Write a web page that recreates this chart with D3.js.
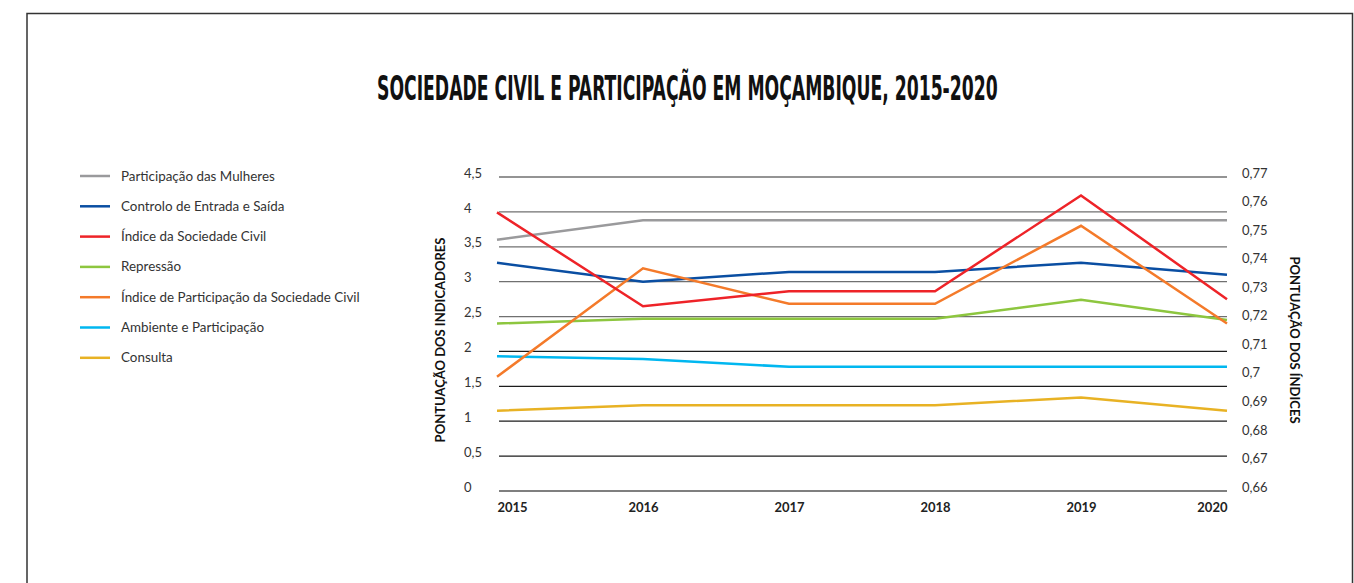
<!DOCTYPE html>
<html>
<head>
<meta charset="utf-8">
<script src="https://cdn.jsdelivr.net/npm/d3@7"></script>
<style>
body{margin:0;background:#fff;}
svg{display:block;}
</style>
</head>
<body>
<div id="chart"></div>
<script>
const years=[2015,2016,2017,2018,2019,2020]

// left axis: indicators
const mulheres=[3.6,3.88,3.88,3.88,3.88,3.88]
const controlo=[3.27,3.0,3.14,3.14,3.27,3.1]
const repressao=[2.4,2.47,2.47,2.47,2.74,2.45]
const ambiente=[1.93,1.89,1.78,1.78,1.78,1.78]
const consulta=[1.15,1.23,1.23,1.23,1.34,1.15]

// right axis: indices
const indiceSC=[0.7576,0.7247,0.730,0.730,0.7635,0.7272]
const indicePart=[0.700,0.738,0.7256,0.7256,0.7529,0.7187]

const leftTicks=[0,0.5,1,1.5,2,2.5,3,3.5,4,4.5]
const rightTicks=[0.66,0.67,0.68,0.69,0.70,0.71,0.72,0.73,0.74,0.75,0.76,0.77]

const series=[
{name:"Participação das Mulheres",values:mulheres,axis:"L",color:"#9a9a9c"},
{name:"Controlo de Entrada e Saída",values:controlo,axis:"L",color:"#0a4ea2"},
{name:"Índice da Sociedade Civil",values:indiceSC,axis:"R",color:"#ee2328"},
{name:"Repressão",values:repressao,axis:"L",color:"#8dc63f"},
{name:"Índice de Participação da Sociedade Civil",values:indicePart,axis:"R",color:"#f47a2a"},
{name:"Ambiente e Participação",values:ambiente,axis:"L",color:"#00b7f0"},
{name:"Consulta",values:consulta,axis:"L",color:"#e8b224"}
]

// draw order: back to front as in the picture
const drawOrder=[0,5,6,3,1,4,2]

const width=1354
const height=583
const font="Lato, 'Open Sans', sans-serif"

const svg=d3.select("#chart")
.append("svg")
.attr("width",width)
.attr("height",height)

// frame
svg.append("path")
.attr("d","M27,600 L27,13.5 L1352.5,13.5 L1352.5,600")
.attr("fill","none")
.attr("stroke","#333")
.attr("stroke-width",1.5)

// title, squeezed to the width of the original condensed type
const title=svg.append("text")
.attr("font-family","'Liberation Sans Narrow', 'DejaVu Sans Condensed', sans-serif")
.attr("font-weight","bold")
.attr("font-size",34)
.attr("fill","#111")
.text("SOCIEDADE CIVIL E PARTICIPAÇÃO EM MOÇAMBIQUE, 2015-2020")

const tw=title.node().getComputedTextLength()
title.attr("transform","translate(377,100) scale("+(621/tw)+",1)")

const x=d3.scaleLinear()
.domain([2015,2020])
.range([497,1227])

const yL=d3.scaleLinear()
.domain([0,4.5])
.range([491,177])

const yR=d3.scaleLinear()
.domain([0.66,0.77])
.range([491,177])

// gridlines
svg.append("g")
.selectAll("line")
.data(leftTicks)
.enter()
.append("line")
.attr("x1",499)
.attr("x2",1227)
.attr("y1",d=>yL(d))
.attr("y2",d=>yL(d))
.attr("stroke",d=>d===0?"#555":(d>=2.5?"#707070":"#1c1c1c"))
.attr("stroke-width",1.3)

// left axis labels
const leftAxis=d3.axisLeft(yL)
.tickValues(leftTicks)
.tickSize(0)
.tickFormat(d=>String(d).replace(".",","))

const gL=svg.append("g")
.attr("transform","translate(464,-4)")
.call(leftAxis)
gL.select(".domain").remove()
gL.selectAll("text")
.attr("x",0)
.attr("text-anchor","start")
.attr("font-family",font)
.attr("font-size",13)
.attr("fill","#333")

// right axis labels
const rightAxis=d3.axisRight(yR)
.tickValues(rightTicks)
.tickSize(0)
.tickFormat(d=>d3.format(".2~f")(d).replace(".",","))

const gR=svg.append("g")
.attr("transform","translate(1242,-4)")
.call(rightAxis)
gR.select(".domain").remove()
gR.selectAll("text")
.attr("x",0)
.attr("font-family",font)
.attr("font-size",13)
.attr("fill","#333")

// x axis labels
const xAxis=d3.axisBottom(x)
.tickValues(years)
.tickSize(0)
.tickFormat(d3.format("d"))

const gX=svg.append("g")
.attr("transform","translate(0,500)")
.call(xAxis)
gX.select(".domain").remove()
gX.selectAll("text")
.attr("text-anchor",(d,i)=>i===0?"start":(i===years.length-1?"end":"middle"))
.attr("font-family",font)
.attr("font-weight","bold")
.attr("font-size",13)
.attr("fill","#222")

// axis titles
svg.append("text")
.attr("transform","translate(445,340) rotate(-90)")
.attr("text-anchor","middle")
.attr("font-family",font)
.attr("font-weight","bold")
.attr("font-size",13)
.attr("fill","#111")
.text("PONTUAÇÃO DOS INDICADORES")

svg.append("text")
.attr("transform","translate(1290,340) rotate(90)")
.attr("text-anchor","middle")
.attr("font-family",font)
.attr("font-weight","bold")
.attr("font-size",13)
.attr("fill","#111")
.text("PONTUAÇÃO DOS ÍNDICES")

// lines
const lineL=d3.line()
.x((d,i)=>x(years[i]))
.y(d=>yL(d))

const lineR=d3.line()
.x((d,i)=>x(years[i]))
.y(d=>yR(d))

svg.append("g")
.selectAll("path")
.data(drawOrder.map(i=>series[i]))
.enter()
.append("path")
.attr("d",d=>d.axis==="L"?lineL(d.values):lineR(d.values))
.attr("fill","none")
.attr("stroke",d=>d.color)
.attr("stroke-width",2.5)
.attr("stroke-linejoin","miter")

// legend
const legend=svg.append("g")
.selectAll("g")
.data(series)
.enter()
.append("g")
.attr("transform",(d,i)=>"translate(80,"+(176+i*30.3)+")")

legend.append("line")
.attr("x1",0)
.attr("x2",30)
.attr("stroke",d=>d.color)
.attr("stroke-width",2.5)

legend.append("text")
.attr("x",41)
.attr("y",4.5)
.attr("font-family",font)
.attr("font-size",13.4)
.attr("fill","#333")
.text(d=>d.name)
</script>
</body>
</html>
